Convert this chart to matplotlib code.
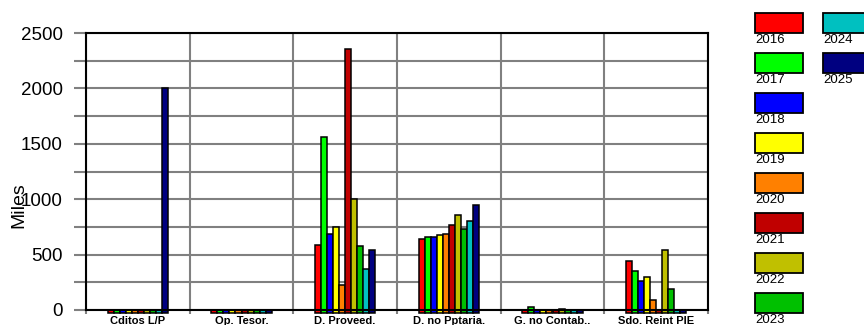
import matplotlib
matplotlib.use("Agg")
import matplotlib.pyplot as plt
from matplotlib.patches import Rectangle
import numpy as np

plt.rcParams['font.family'] = ['Liberation Sans', 'DejaVu Sans']

categories = ["Cditos L/P", "Op. Tesor.", "D. Proveed.", "D. no Pptaria.",
              "G. no Contab..", "Sdo. Reint PIE"]
years = ["2016", "2017", "2018", "2019", "2020", "2021", "2022", "2023", "2024", "2025"]
colors = ["#FF0000", "#00FF00", "#0000FF", "#FFFF00", "#FF8000",
          "#C00000", "#C0C000", "#00C000", "#00C0C0", "#000080"]

# values per year, one entry per category (thousands)
v2016 = [0, 0, 585, 640, 0, 445]
v2017 = [0, 0, 1560, 660, 30, 355]
v2018 = [0, 0, 690, 655, 0, 265]
v2019 = [0, 0, 750, 675, 0, 300]
v2020 = [0, 0, 225, 685, 0, 90]
v2021 = [0, 0, 2360, 765, 0, 0]
v2022 = [0, 0, 1000, 855, 12, 540]
v2023 = [0, 0, 575, 735, 0, 190]
v2024 = [0, 0, 370, 800, 0, 0]
v2025 = [2000, 0, 540, 950, 0, 0]
series = [v2016, v2017, v2018, v2019, v2020, v2021, v2022, v2023, v2024, v2025]

W, H = 864, 325
fig = plt.figure(figsize=(W / 100, H / 100), dpi=100)
ax = fig.add_axes([86 / W, 1 - 310 / H, (708 - 86) / W, (310 - 33) / H])

x = np.arange(len(categories)) + 0.5
bw = 0.058
base = -25  # bars start a hair below the zero line
for i, (vals, col) in enumerate(zip(series, colors)):
    off = (i - 4.5) * bw
    vals = np.asarray(vals, dtype=float)
    ax.bar(x + off, vals - base, bottom=base, width=bw, color=col,
           edgecolor="black", linewidth=1.1, clip_on=False, zorder=3)

ax.set_xlim(0, len(categories))
ax.set_ylim(0, 2500)

# y axis: labels every 500, grid every 250
ax.set_yticks(np.arange(0, 2501, 500))
ax.set_yticks(np.arange(0, 2501, 250), minor=True)
ax.tick_params(axis='y', which='both', length=8.6, width=1.5, color="#808080",
               pad=8, labelsize=13.5, direction='out')
ax.grid(axis='y', which='both', color="#808080", linewidth=1.5, zorder=1)

# x axis: category labels centred, separators between them
ax.set_xticks(x)
ax.set_xticklabels(categories, fontsize=8, fontweight='bold')
ax.set_xticks(np.arange(0, len(categories) + 1), minor=True)
ax.tick_params(axis='x', which='major', length=0, pad=4)
ax.tick_params(axis='x', which='minor', length=3, width=1.5, color="#808080")
ax.grid(axis='x', which='minor', color="#808080", linewidth=1.5, zorder=1)
ax.set_axisbelow(True)

for s in ax.spines.values():
    s.set_color("black")
    s.set_linewidth(1.5)
    s.set_zorder(4)

fig.text(19 / W, 1 - 205 / H, "Miles", rotation=90, ha='center', va='center',
         fontsize=14)

# legend: two columns of swatches with the year underneath
pw, ph = 48, 20
for i, (yr, col) in enumerate(zip(years, colors)):
    colx = 755 if i < 8 else 823
    row = i if i < 8 else i - 8
    top = 13 + 40 * row
    fig.add_artist(Rectangle((colx / W, 1 - (top + ph) / H), pw / W, ph / H,
                             transform=fig.transFigure, facecolor=col,
                             edgecolor="black", linewidth=1.3))
    fig.text(colx / W, 1 - (top + ph + 1) / H, yr, ha='left', va='top',
             fontsize=9.5)

fig.savefig("out.png", dpi=100)
